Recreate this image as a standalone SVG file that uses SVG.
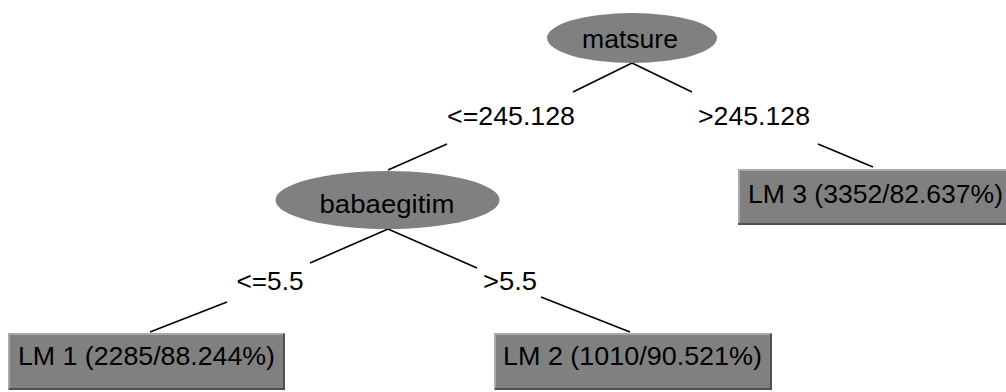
<svg xmlns="http://www.w3.org/2000/svg" width="1006" height="392" viewBox="0 0 1006 392">
  <style>
    .split ellipse { fill: #808080; stroke: none; }
    .leaf rect { fill: #808080; stroke: none; }
    .hi { stroke: #a8a8a8; stroke-width: 2; fill: none; }
    .lo { stroke: #505050; stroke-width: 2; fill: none; }
    text { font-family: "Liberation Sans", Arial, sans-serif; font-size: 25px; fill: #000; }
    .mid { text-anchor: middle; }
    #edges line { stroke: #000; stroke-width: 1.6; }
  </style>
  <rect width="1006" height="392" fill="#fff"/>

  <g id="edges">
    <line x1="632" y1="63" x2="573" y2="92"/>
    <line x1="632" y1="63" x2="692" y2="92"/>
    <line x1="447" y1="144" x2="388" y2="170"/>
    <line x1="818" y1="144" x2="873" y2="167"/>
    <line x1="388" y1="229" x2="310" y2="263"/>
    <line x1="388" y1="229" x2="477" y2="268"/>
    <line x1="227" y1="302" x2="150" y2="332"/>
    <line x1="541" y1="297" x2="630" y2="332"/>
    <text class="mid" x="511" y="125" textLength="128" lengthAdjust="spacingAndGlyphs">&lt;=245.128</text>
    <text class="mid" x="754" y="125" textLength="112" lengthAdjust="spacingAndGlyphs">&gt;245.128</text>
    <text class="mid" x="270" y="290" textLength="67" lengthAdjust="spacingAndGlyphs">&lt;=5.5</text>
    <text class="mid" x="510" y="290" textLength="54" lengthAdjust="spacingAndGlyphs">&gt;5.5</text>
  </g>

  <g id="node-matsure" class="split">
    <ellipse cx="632" cy="38" rx="85" ry="25"/>
    <text class="mid" x="630" y="48" textLength="96" lengthAdjust="spacingAndGlyphs">matsure</text>
  </g>

  <g id="node-babaegitim" class="split">
    <ellipse cx="387.5" cy="200" rx="112" ry="29"/>
    <text class="mid" x="387" y="213" textLength="135" lengthAdjust="spacingAndGlyphs">babaegitim</text>
  </g>

  <g id="node-lm3" class="leaf">
    <rect x="738" y="169" width="268" height="56"/>
    <polyline class="hi" points="739,225 739,170 1006,170"/>
    <line class="lo" x1="738" y1="224" x2="1006" y2="224"/>
    <text x="748" y="203" textLength="255" lengthAdjust="spacingAndGlyphs">LM 3 (3352/82.637%)</text>
  </g>

  <g id="node-lm1" class="leaf">
    <rect x="8" y="333" width="277" height="57"/>
    <polyline class="hi" points="9,390 9,334 284,334"/>
    <polyline class="lo" points="9,389 284,389 284,334"/>
    <text x="18" y="365" textLength="257" lengthAdjust="spacingAndGlyphs">LM 1 (2285/88.244%)</text>
  </g>

  <g id="node-lm2" class="leaf">
    <rect x="494" y="333" width="278" height="57"/>
    <polyline class="hi" points="495,390 495,334 771,334"/>
    <polyline class="lo" points="495,389 771,389 771,334"/>
    <text x="503" y="365" textLength="259" lengthAdjust="spacingAndGlyphs">LM 2 (1010/90.521%)</text>
  </g>
</svg>
